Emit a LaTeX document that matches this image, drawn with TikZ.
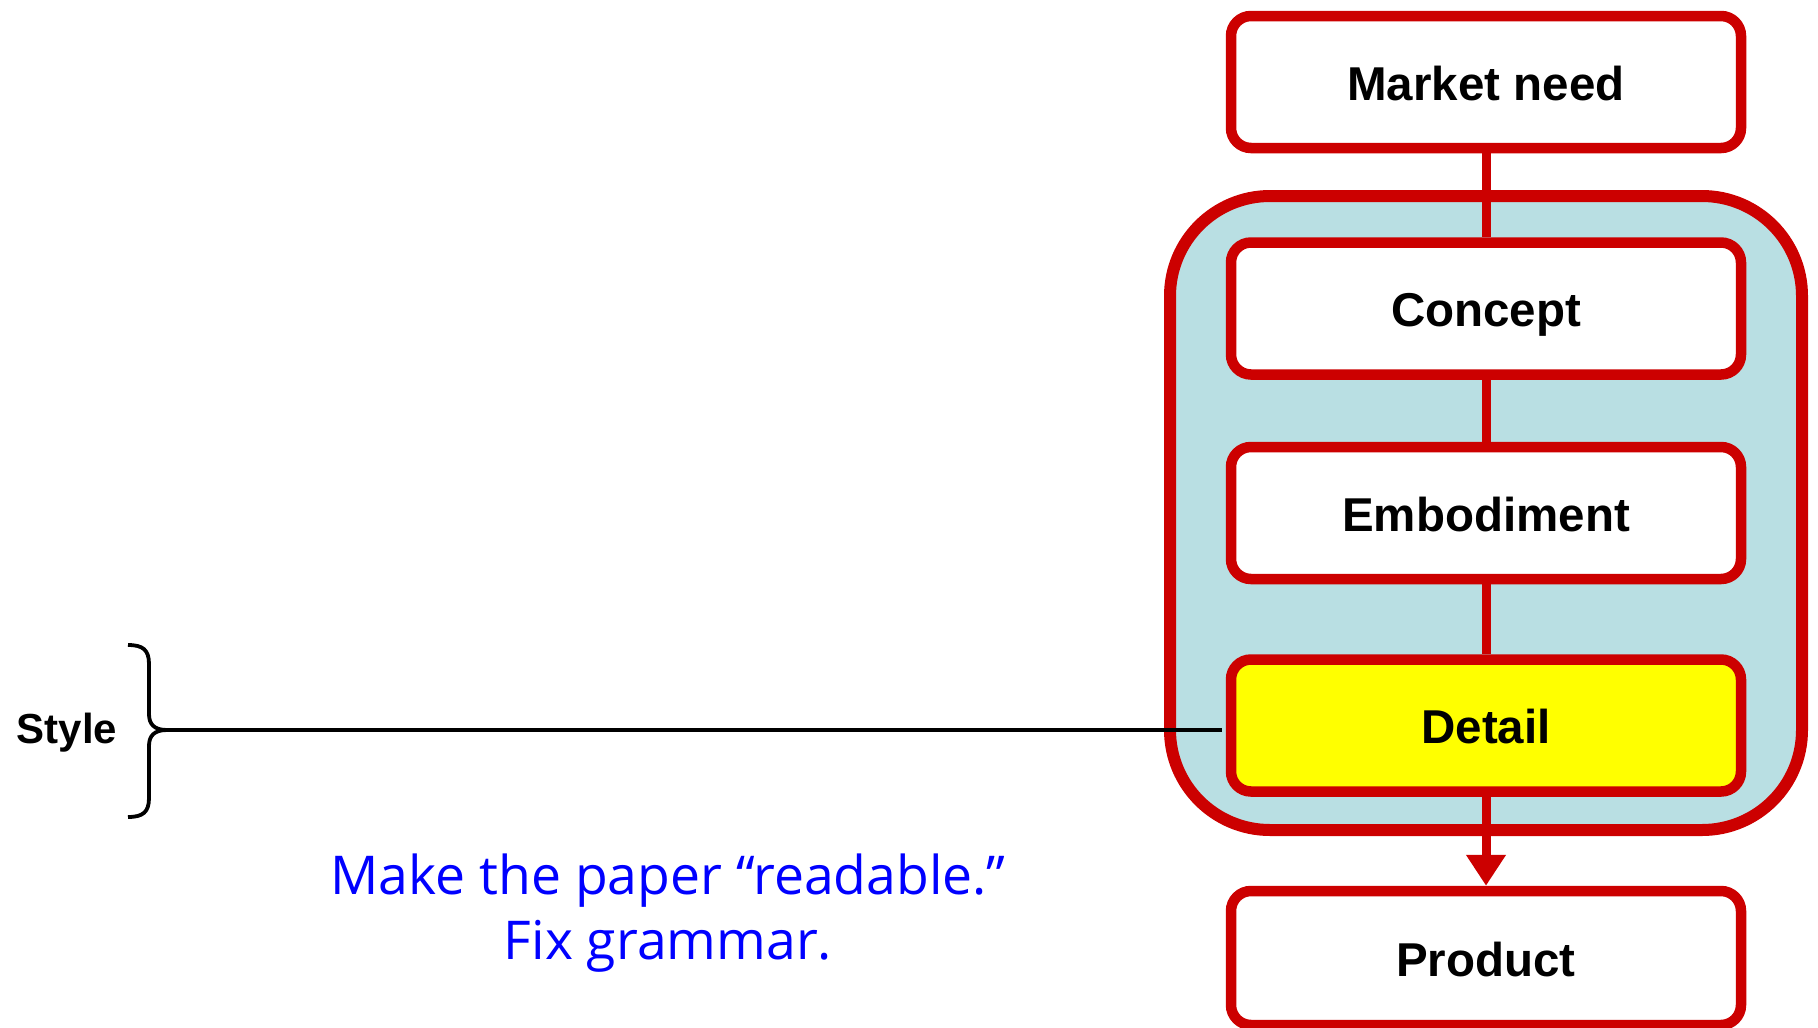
\documentclass[tikz,border=0pt]{standalone}
\usepackage{fontspec}
\setmainfont{Liberation Sans}
\newfontfamily\notefont{Open Sans}
\usetikzlibrary{arrows.meta}
\definecolor{boxred}{RGB}{204,0,0}
\definecolor{grpblue}{RGB}{185,223,227}
\definecolor{noteblue}{RGB}{0,0,255}
\definecolor{detailyellow}{RGB}{255,255,0}
\tikzset{
  stagebox/.style={draw=boxred, fill=white, line width=10.5pt, rounded corners=20pt,
    minimum width=510pt, minimum height=132pt, inner sep=0pt,
    text height=36pt, text depth=0pt,
    font=\fontsize{47.5}{57}\selectfont\bfseries},
  grpbox/.style={draw=boxred, fill=grpblue, line width=12pt, rounded corners=100pt,
    minimum width=632pt, minimum height=634pt, inner sep=0pt},
  link/.style={draw=boxred, line width=9pt},
  bracepath/.style={draw=black, line width=3.8pt},
  pointer/.style={draw=black, line width=3.4pt}
}
\begin{document}
\begin{tikzpicture}[x=1pt,y=-1pt]
\useasboundingbox (0,0) rectangle (1818,1028);
\node[grpbox] (G) at (1486,513) {};
\node[stagebox] (M) at (1486,82) {Market need};
\node[stagebox] (C) at (1486,308.5) {Concept};
\node[stagebox] (E) at (1486,513) {Embodiment};
\node[stagebox, fill=detailyellow] (D) at (1486,725.5) {Detail};
\node[stagebox, minimum height=134pt] (P) at (1486,958) {Product};
\draw[link] (M.south) -- (C.north);
\draw[link] (C.south) -- (E.north);
\draw[link] (E.south) -- (D.north);
\draw[link, -{Triangle[length=31pt,width=38pt]}] (D.south) -- (P.north);
% brace
\coordinate (tip) at (167,730);
\draw[bracepath] (128,645) .. controls (143,645) and (149,650) .. (149,664)
  -- (149,714) .. controls (149,724) and (154,730) .. (tip)
  .. controls (154,730) and (149,736) .. (149,746)
  -- (149,798) .. controls (149,812) and (143,817) .. (128,817);
\draw[pointer] (tip) -- ([xshift=-4pt]tip -| D.west);
\node[font=\fontsize{42}{50}\selectfont\bfseries] (S) at (67,733) {Style};
\node[font=\notefont\fontsize{53.5}{65}\selectfont, text=noteblue, align=center] (N) at (668,913)
  {Make the paper “readable.”\\Fix grammar.};
\end{tikzpicture}
\end{document}
